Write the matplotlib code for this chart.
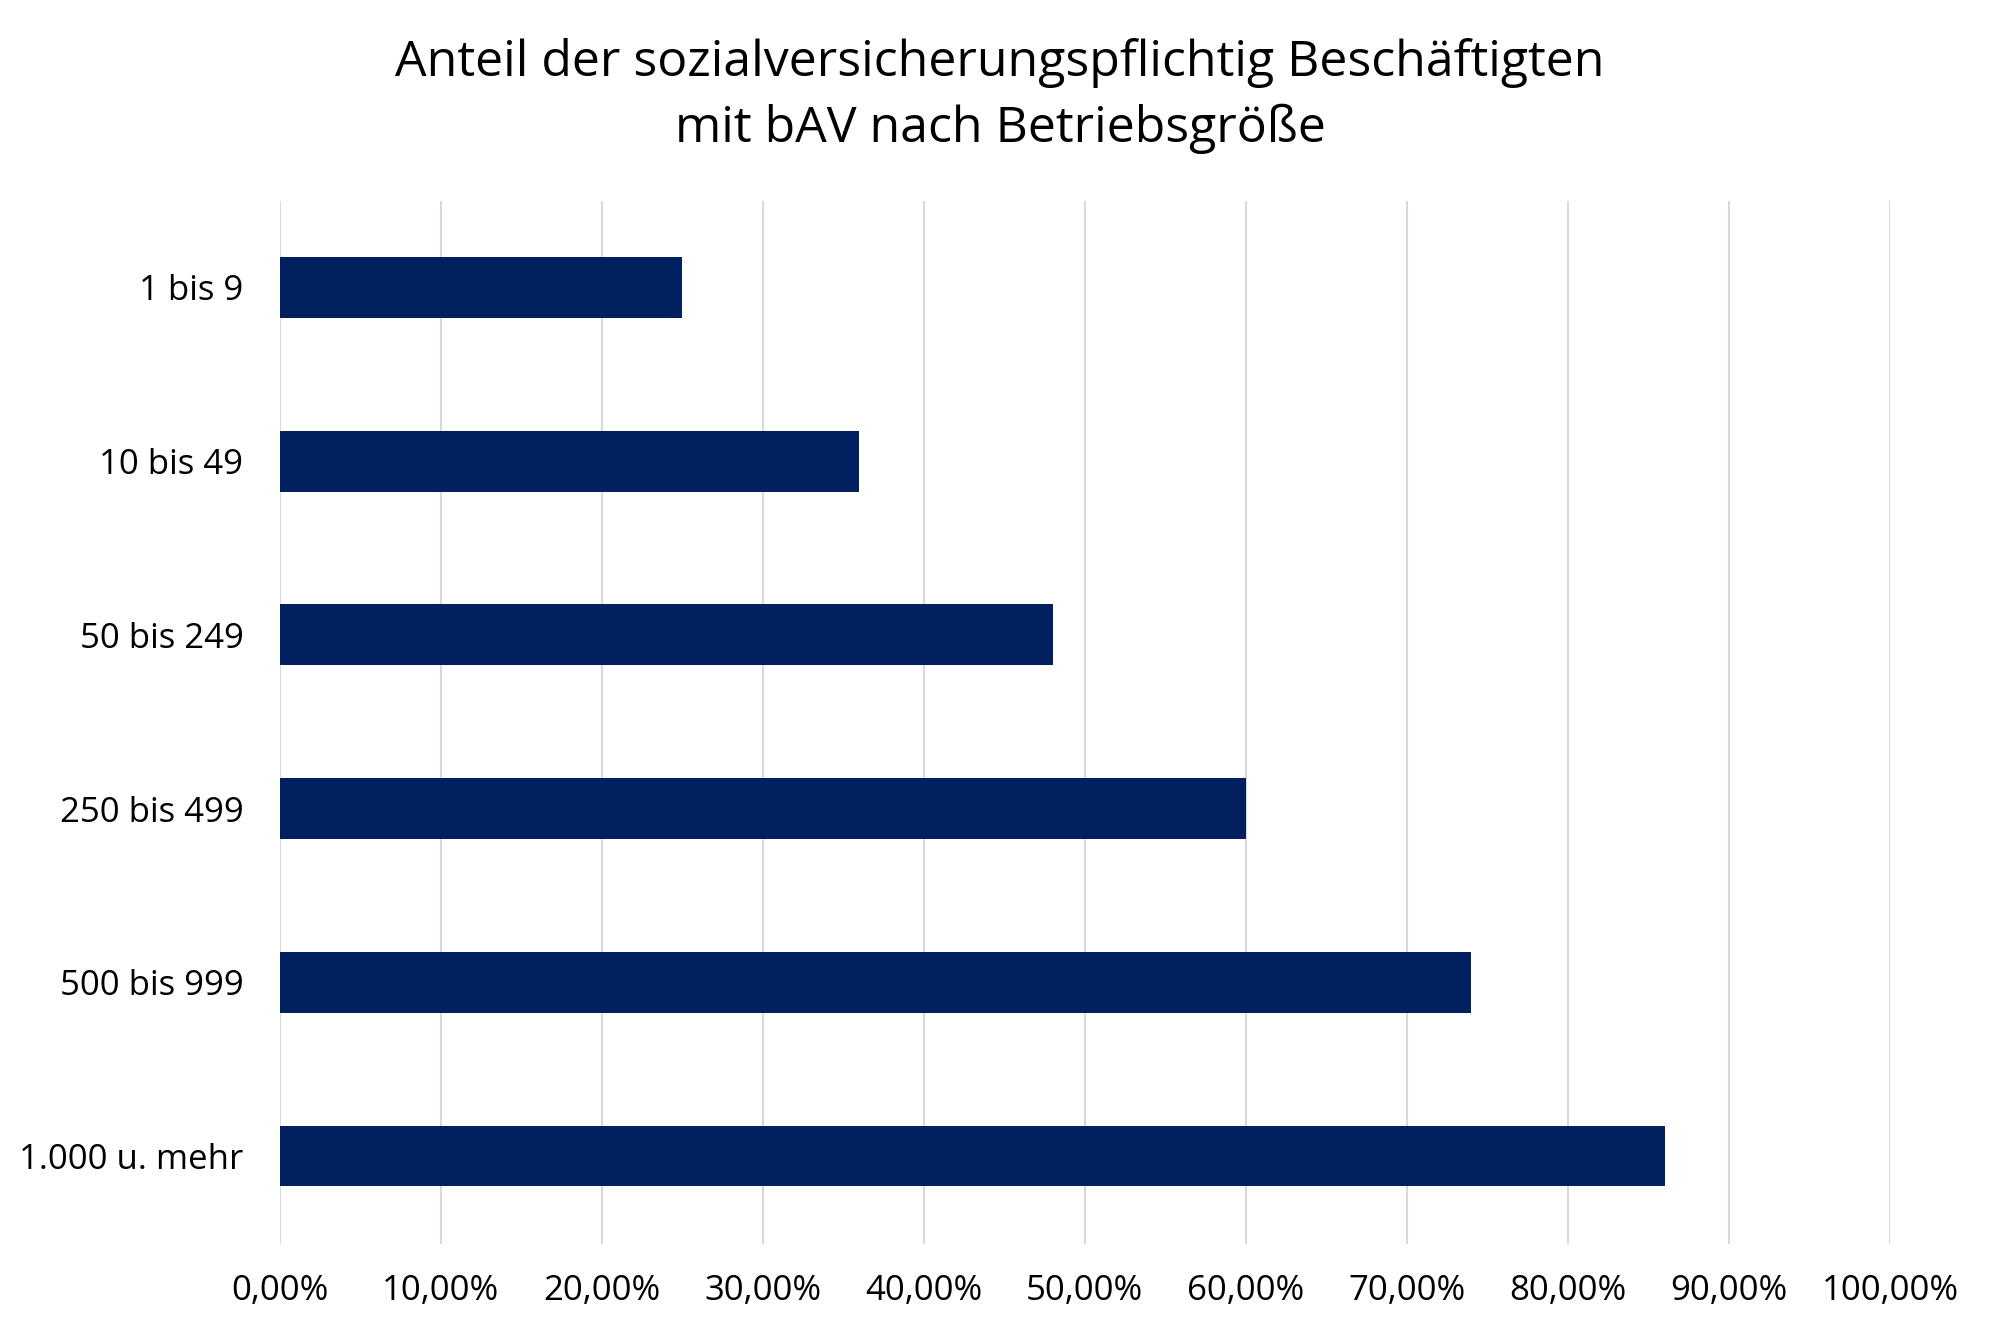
import matplotlib
matplotlib.use("Agg")
import matplotlib.pyplot as plt
from matplotlib.ticker import FuncFormatter

categories = ["1 bis 9", "10 bis 49", "50 bis 249", "250 bis 499", "500 bis 999", "1.000 u. mehr"]
values = [25, 36, 48, 60, 74, 86]
xticks = [0, 10, 20, 30, 40, 50, 60, 70, 80, 90, 100]

plt.rcParams['font.family'] = ['Open Sans', 'DejaVu Sans']

fig = plt.figure(figsize=(20, 13.34), dpi=100)
ax = fig.add_axes([0.1398, 0.0677, 0.8052, 0.7813])

ypos = list(range(len(categories)))
ax.barh(ypos, values, height=0.35, color="#002060", zorder=3)
ax.set_yticks(ypos)
ax.set_yticklabels(categories)
ax.set_ylim(len(categories) - 0.5 + 0.005, -0.5 + 0.005)
ax.set_xlim(0, 100)
ax.set_xticks(xticks)
ax.xaxis.set_major_formatter(FuncFormatter(lambda v, p: f"{v:.2f}".replace(".", ",") + "%"))
ax.grid(axis="x", color="#D9D9D9", linewidth=1.5, zorder=0)
for s in ax.spines.values():
    s.set_visible(False)
ax.tick_params(axis="both", length=0, labelsize=25, colors="black")
ax.tick_params(axis="y", pad=26)
ax.tick_params(axis="x", pad=22)

fig.text(0.5, 0.928, "Anteil der sozialversicherungspflichtig Beschäftigten\nmit bAV nach Betriebsgröße",
         ha="center", va="center", fontsize=36, linespacing=1.39)

fig.savefig("out.png", dpi=100, facecolor="white")
